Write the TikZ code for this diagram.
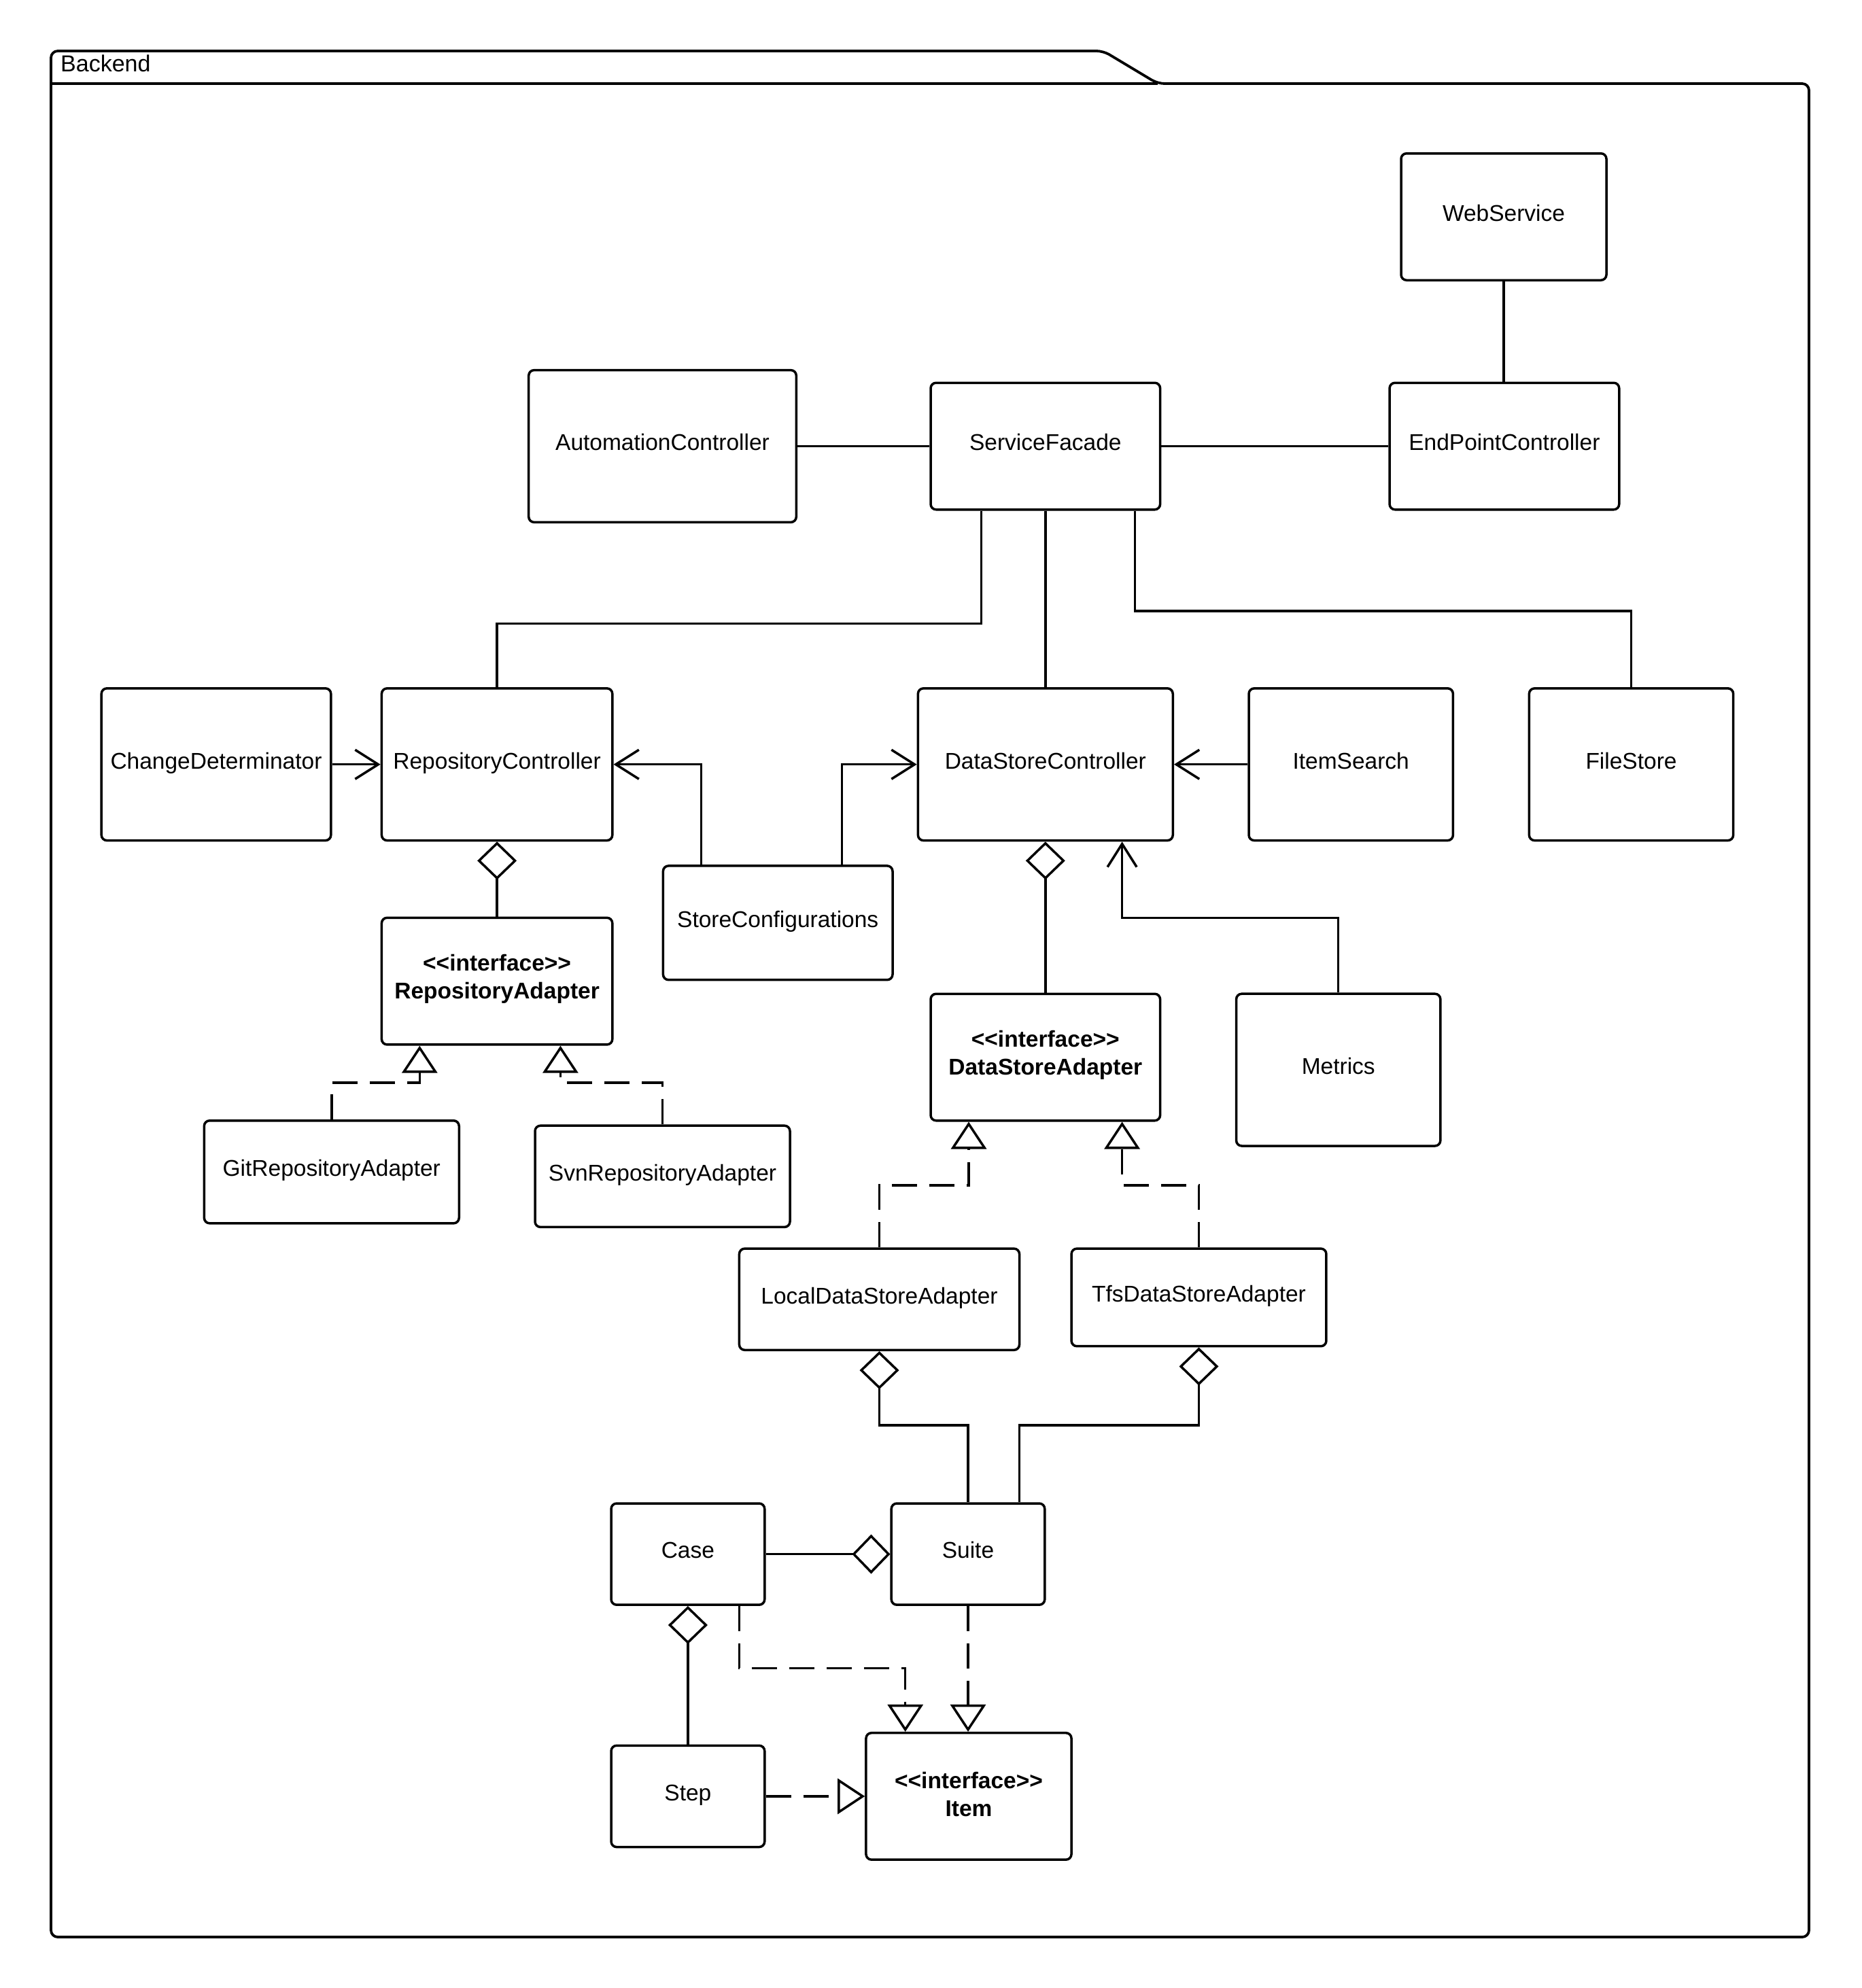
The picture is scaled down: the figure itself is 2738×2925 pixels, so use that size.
\documentclass[tikz,border=0pt]{standalone}
\usepackage{fontspec}
\setmainfont{Liberation Sans}
\usetikzlibrary{arrows.meta}

% stereotype brackets kept apart so they are not turned into guillemets
\newcommand\stereotype[1]{<\kern0pt<#1>\kern0pt>}

\tikzset{
  boxbase/.style={draw, line width=3.5pt, rounded corners=8pt, inner sep=0pt,
    align=center},
  cls/.style={boxbase, font=\fontsize{33.5}{41}\selectfont,
    text height=24pt, text depth=11.4pt},
  iface/.style={boxbase},
  ifacetext/.style={inner sep=0pt, align=center,
    font=\fontsize{33.5}{41}\selectfont\bfseries},
  conn/.style={line width=3.5pt, line join=miter},
  dep/.style={conn, dash pattern=on 37pt off 18pt},
  nav/.style={conn, -{Straight Barb[length=34pt,width=43pt]}},
  agg/.style={conn, {Diamond[open,fill=white,length=56pt,width=58pt]}-},
  real/.style={dep, -{Triangle[open,fill=white,length=40pt,width=52pt]}},
  frame/.style={line width=3.8pt, line join=round},
}

\begin{document}
\begin{tikzpicture}[x=1pt, y=-1pt]
  \fill[white] (0,0) rectangle (2738,2925);
  \useasboundingbox (0,0) rectangle (2738,2925);

  % package frame with its tab
  \draw[frame, rounded corners=10pt] (75,2850) -- (75,75) -- (1623,75) -- (1703,123)
    -- (2661,123) -- (2661,2850) -- cycle;
  \draw[frame] (75,123) -- (1703,123);
  \node[anchor=base west, inner sep=0pt, font=\fontsize{34}{41}\selectfont]
    (pkg) at (89,106) {Backend};

  % classes
  \node[cls, minimum width=302pt,   minimum height=186.5pt] (ws)  at (2212,319)    {WebService};
  \node[cls, minimum width=393.6pt, minimum height=223.8pt] (ac)  at (974.5,656.5) {AutomationController};
  \node[cls, minimum width=337.6pt, minimum height=186.5pt] (sf)  at (1537.8,656.5) {ServiceFacade};
  \node[cls, minimum width=337.7pt, minimum height=186.5pt] (epc) at (2212.9,656.5) {EndPointController};
  \node[cls, minimum width=337.6pt, minimum height=223.8pt] (cd)  at (318,1124.7)  {ChangeDeterminator};
  \node[cls, minimum width=339.4pt, minimum height=223.8pt] (rc)  at (731.1,1124.7) {RepositoryController};
  \node[cls, minimum width=374.9pt, minimum height=223.8pt] (dsc) at (1537.8,1124.7) {DataStoreController};
  \node[cls, minimum width=300.4pt, minimum height=223.8pt] (is)  at (1987.2,1124.7) {ItemSearch};
  \node[cls, minimum width=300.3pt, minimum height=223.8pt] (fs)  at (2399.5,1124.7) {FileStore};
  \node[cls, minimum width=337.6pt, minimum height=167.8pt] (sc)  at (1144.2,1357.8) {StoreConfigurations};
  \node[iface, minimum width=339.4pt, minimum height=186.6pt] (ra) at (731.1,1443.6) {};
  \node[ifacetext] (ra-name) at ([yshift=3pt]ra.center) {\stereotype{interface}\\RepositoryAdapter};
  \node[iface, minimum width=337.6pt, minimum height=186.5pt] (dsa) at (1537.8,1555.5) {};
  \node[ifacetext] (dsa-name) at ([yshift=3pt]dsa.center) {\stereotype{interface}\\DataStoreAdapter};
  \node[cls, minimum width=300.3pt, minimum height=223.8pt] (met) at (1968.7,1574.1) {Metrics};
  \node[cls, minimum width=374.9pt, minimum height=151.1pt] (git) at (487.8,1724.3) {GitRepositoryAdapter};
  \node[cls, minimum width=375pt,   minimum height=149.2pt] (svn) at (974.5,1730.8) {SvnRepositoryAdapter};
  \node[cls, minimum width=412.1pt, minimum height=149.2pt] (lds) at (1293.5,1911.7) {LocalDataStoreAdapter};
  \node[cls, minimum width=374.9pt, minimum height=143.6pt] (tds) at (1763.5,1908.9) {TfsDataStoreAdapter};
  \node[cls, minimum width=225.7pt, minimum height=149.2pt] (case)  at (1011.9,2286.6) {Case};
  \node[cls, minimum width=225.6pt, minimum height=149.2pt] (suite) at (1424,2286.6)   {Suite};
  \node[cls, minimum width=225.7pt, minimum height=149.3pt] (step)  at (1011.9,2642.9) {Step};
  \node[iface, minimum width=302.1pt, minimum height=186.5pt] (item) at (1425,2642.9) {};
  \node[ifacetext] (item-name) at ([yshift=3pt]item.center) {\stereotype{interface}\\Item};

  % plain associations
  \draw[conn] (ws.south) -- (ws.south |- epc.north);
  \draw[conn] (ac.east) -- (sf.west);
  \draw[conn] (sf.east) -- (epc.west);
  \draw[conn] (1443.6,0 |- sf.south) -- (1443.6,917.6) -| (rc.north);
  \draw[conn] (sf.south) -- (dsc.north);
  \draw[conn] (1669.3,0 |- sf.south) -- (1669.3,899) -| (fs.north);

  % navigable associations
  \draw[nav] (cd.east) -- (rc.west);
  \draw[nav] (1031.4,0 |- sc.north) |- (rc.east);
  \draw[nav] (1238.4,0 |- sc.north) |- (dsc.west);
  \draw[nav] (is.west) -- (dsc.east);
  \draw[nav] (met.north) |- (1650.6,1350.3) -- (1650.6,0 |- dsc.south);

  % aggregations
  \draw[agg] (rc.south) -- (ra.north);
  \draw[agg] (dsc.south) -- (dsa.north);
  \draw[agg] (lds.south) -- (1293.5,2097) -| (suite.north);
  \draw[agg] (tds.south) -- (1763.5,2097) -| (1499.5,0 |- suite.north);
  \draw[agg] (suite.west) -- (case.east);
  \draw[agg] (case.south) -- (step.north);

  % realizations
  \draw[real] (git.north) |- (617.3,1592.8) -- (617.3,0 |- ra.south);
  \draw[real] (svn.north) |- (824.4,1592.8) -- (824.4,0 |- ra.south);
  \draw[real] (lds.north) |- (1425,1743.9) -- (1425,0 |- dsa.south);
  \draw[real] (tds.north) |- (1650.6,1743.9) -- (1650.6,0 |- dsa.south);
  \draw[real] (1087.4,0 |- case.south) |- (1331.7,2454.5) -- (1331.7,0 |- item.north);
  \draw[real] (suite.south) -- (suite.south |- item.north);
  \draw[real] (step.east) -- (item.west);
\end{tikzpicture}
\end{document}
